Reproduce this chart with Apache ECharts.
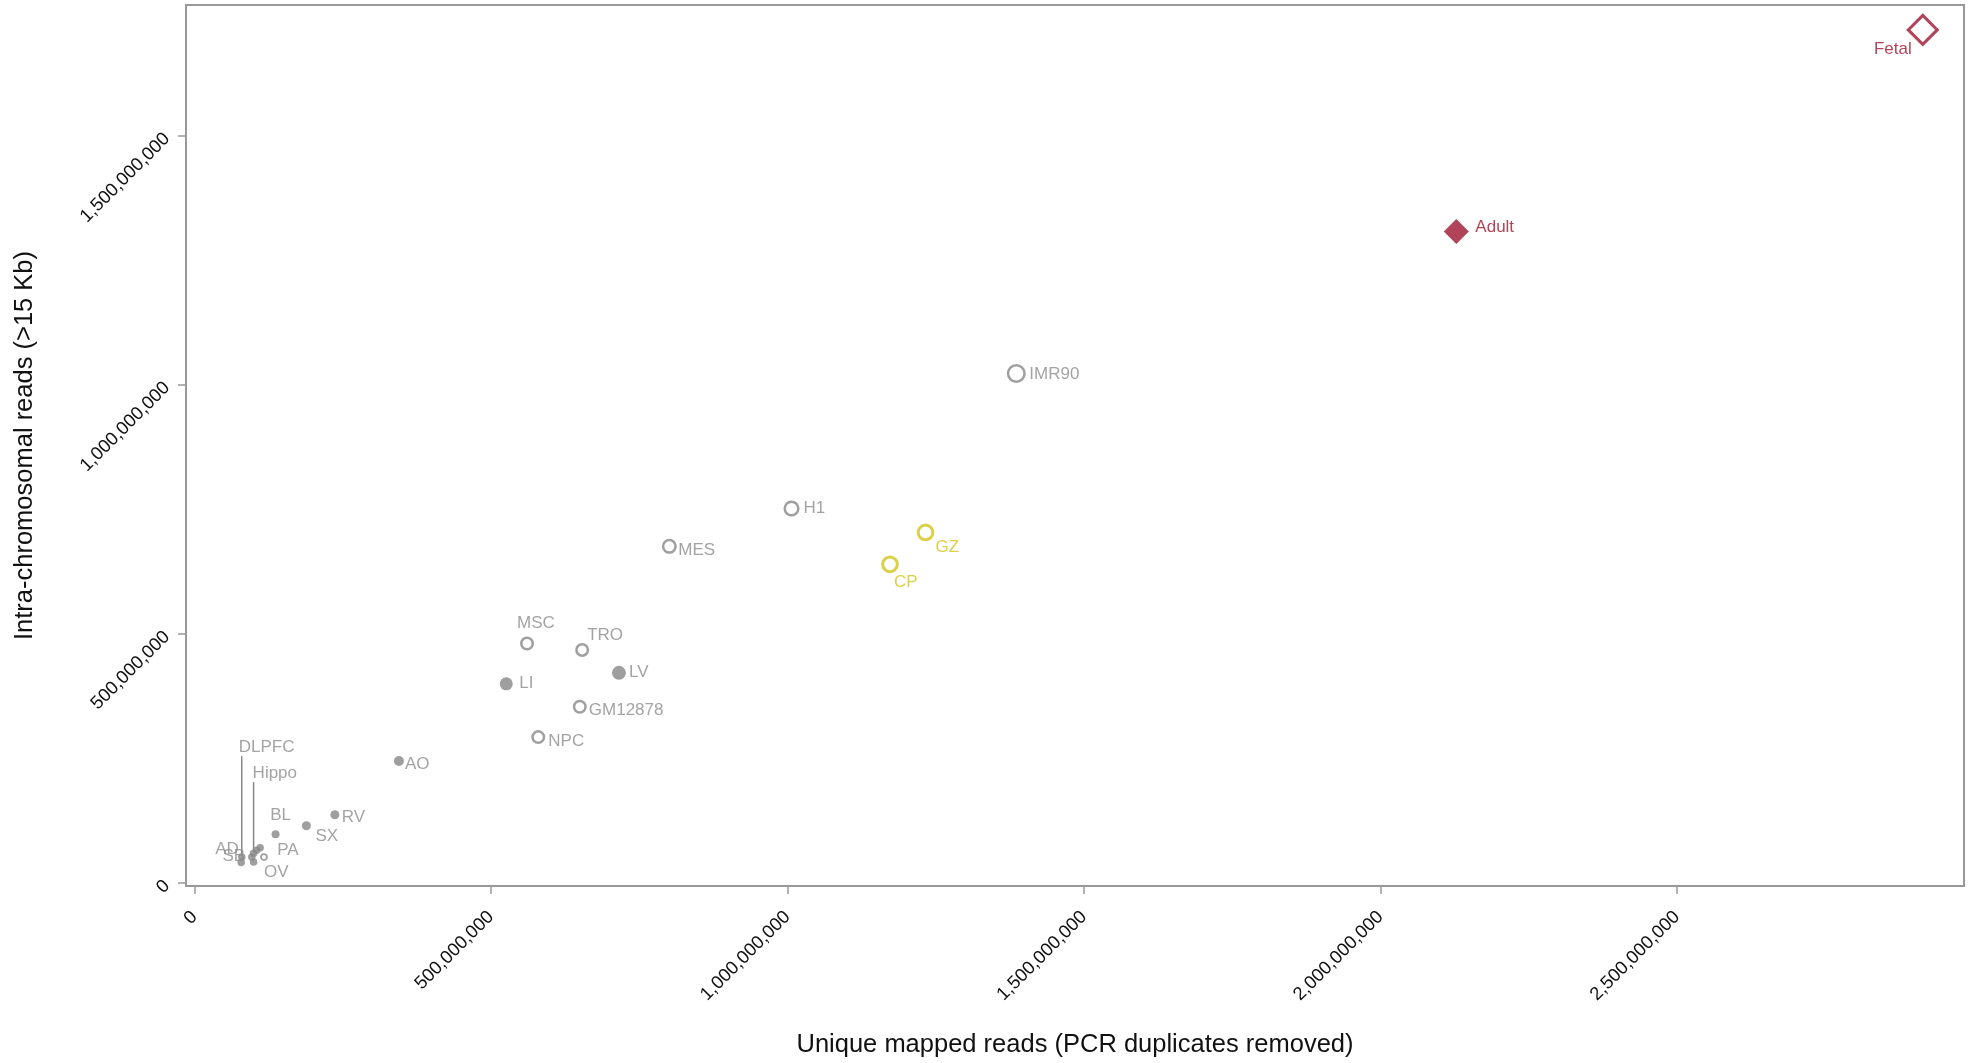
<!DOCTYPE html>
<html>
<head>
<meta charset="utf-8">
<script src="https://cdn.jsdelivr.net/npm/echarts@6/dist/echarts.min.js"></script>
<style>
  html, body { margin: 0; padding: 0; background: #fff; }
  #chart { width: 1979px; height: 1063px; }
</style>
</head>
<body>
<div id="chart"></div>
<script>
// Hi-C libraries: unique mapped reads vs. intra-chromosomal reads (>15 Kb)

// Tissue libraries (filled grey dots)
const tissueNames = ['LV', 'LI', 'AO', 'RV', 'SX', 'BL', 'PA', 'LG', 'Hippo', 'AD', 'DLPFC', 'SB', 'PO'];
const tissueUnique = [716e6, 526e6, 345e6, 237e6, 189e6, 137e6, 111e6, 105e6, 100e6, 97e6, 80e6, 79e6, 100e6];
const tissueIntra  = [422e6, 400e6, 245e6, 137e6, 115e6, 98e6, 71e6, 66e6, 60e6, 52e6, 52e6, 41e6, 42e6];

// Cell-line libraries (open grey circles)
const cellNames  = ['IMR90', 'H1', 'MES', 'MSC', 'TRO', 'GM12878', 'NPC', 'OV'];
const cellUnique = [1386e6, 1007e6, 801e6, 561e6, 654e6, 650e6, 580e6, 117.5e6];
const cellIntra  = [1023e6, 752e6, 676e6, 481e6, 468e6, 354e6, 293e6, 52e6];

// Fetal brain laminae (open yellow circles)
const laminaNames  = ['GZ', 'CP'];
const laminaUnique = [1233e6, 1173e6];
const laminaIntra  = [704e6, 640e6];

// Brain libraries (red diamonds)
const adultNames  = ['Adult'];
const adultUnique = [2128e6];
const adultIntra  = [1308e6];
const fetalNames  = ['Fetal'];
const fetalUnique = [2914.5e6];
const fetalIntra  = [1713e6];

// Axis tick values
const xTicks = [0, 500e6, 1000e6, 1500e6, 2000e6, 2500e6];
const yTicks = [0, 500e6, 1000e6, 1500e6];

// ---- styling ----
const GREY = '#878787';
const GREY_TEXT = '#8c8c8c';
const YELLOW = '#d3c41c';
const RED = '#9e1530';
const FONT = '"Liberation Sans", Arial, sans-serif';

// label anchor offset from the marker centre: [dx, dy, align]
const labelAt = {
  IMR90: [13, 1, 'left'], H1: [12, 0, 'left'], MES: [9, 4, 'left'],
  GZ: [10, 15, 'left'], CP: [4, 18, 'left'],
  MSC: [9, -20, 'center'], TRO: [5, -15, 'left'], LV: [10, -1, 'left'],
  LI: [13, 0, 'left'], GM12878: [9, 4, 'left'], NPC: [10, 4, 'left'],
  AO: [6, 3, 'left'], RV: [7, 3, 'left'], SX: [9, 11, 'left'],
  BL: [5, -19, 'center'], PA: [17, 3, 'left'], OV: [0, 15, 'left'],
  AD: [-13, -8, 'right'], SB: [4, -6, 'right'],
  DLPFC: [-3, -110, 'left'], Hippo: [-1, -80, 'left'],
  Adult: [19, -4, 'left'], Fetal: [-11, 19, 'right']
};
// labels tied back to their marker with a vertical leader line
const guided = ['DLPFC', 'Hippo'];

// marker sizes
const dotSize = { LV: 14, LI: 13, AO: 10, RV: 9, SX: 9, BL: 8 };
const ringSize = { IMR90: 16.5, H1: 13.5, MES: 12.5, MSC: 11.5, TRO: 11.5, GM12878: 11.5, NPC: 11.5, OV: 6 };

function makeItems(names, xs, ys, color) {
  return names.map((n, i) => {
    const item = { name: n, value: [xs[i], ys[i]] };
    const p = labelAt[n];
    if (p) {
      item.label = {
        show: true, position: 'inside', offset: [p[0], p[1]],
        align: p[2], verticalAlign: 'middle',
        color: color, fontSize: 17, fontFamily: FONT, formatter: '{b}'
      };
    } else {
      item.label = { show: false };
    }
    return item;
  });
}

const tissueItems = makeItems(tissueNames, tissueUnique, tissueIntra, GREY_TEXT)
  .map(d => Object.assign(d, { symbolSize: dotSize[d.name] || 7.5 }));
const cellItems = makeItems(cellNames, cellUnique, cellIntra, GREY_TEXT)
  .map(d => Object.assign(d, {
    symbolSize: ringSize[d.name] || 11.5,
    itemStyle: { borderWidth: d.name === 'OV' ? 1.8 : 2.5 }
  }));

const chart = echarts.init(document.getElementById('chart'), null, { renderer: 'canvas' });

const axisCommon = {
  type: 'value',
  splitLine: { show: false },
  axisLine: { show: true, onZero: false, lineStyle: { color: '#999', width: 2 } },
  axisTick: { show: true, length: 8, lineStyle: { color: '#999', width: 1.5 } },
  nameLocation: 'middle',
  nameTextStyle: { color: '#111', fontSize: 25.5, fontFamily: FONT },
};

const tickFormatter = v => Math.round(v).toLocaleString('en-US');

chart.setOption({
  animation: false,
  backgroundColor: '#fff',
  grid: {
    left: 186, right: 15, top: 5, bottom: 177,
    show: true, borderColor: '#999', borderWidth: 2, backgroundColor: 'transparent'
  },
  xAxis: Object.assign({}, axisCommon, {
    min: -14e6, max: 2984e6,
    name: 'Unique mapped reads (PCR duplicates removed)',
    nameGap: 146,
    axisTick: Object.assign({}, axisCommon.axisTick, { customValues: xTicks }),
    axisLabel: {
      customValues: xTicks, rotate: 45, margin: 28,
      color: '#111', fontSize: 18.5, fontFamily: FONT, formatter: tickFormatter
    }
  }),
  yAxis: Object.assign({}, axisCommon, {
    min: -6e6, max: 1763e6,
    name: 'Intra-chromosomal reads (>15 Kb)',
    nameGap: 148,
    axisTick: Object.assign({}, axisCommon.axisTick, { customValues: yTicks }),
    axisLabel: {
      customValues: yTicks, rotate: 45, margin: 19,
      color: '#111', fontSize: 18.5, fontFamily: FONT, formatter: tickFormatter
    }
  }),
  series: [
    {
      name: 'tissue', type: 'scatter', symbol: 'circle',
      itemStyle: { color: GREY },
      data: tissueItems, z: 3
    },
    {
      name: 'cell line', type: 'scatter', symbol: 'circle',
      itemStyle: { color: '#fff', borderColor: GREY, borderWidth: 2.5 },
      data: cellItems, z: 2
    },
    {
      name: 'lamina', type: 'scatter', symbol: 'circle', symbolSize: 14.7,
      itemStyle: { color: '#fff', borderColor: YELLOW, borderWidth: 3 },
      data: makeItems(laminaNames, laminaUnique, laminaIntra, YELLOW), z: 2
    },
    {
      name: 'adult', type: 'scatter', symbol: 'diamond', symbolSize: 25,
      itemStyle: { color: RED },
      data: makeItems(adultNames, adultUnique, adultIntra, RED), z: 2
    },
    {
      name: 'fetal', type: 'scatter', symbol: 'diamond', symbolSize: 29,
      itemStyle: { color: '#fff', borderColor: RED, borderWidth: 3 },
      data: makeItems(fetalNames, fetalUnique, fetalIntra, RED), z: 2
    }
  ]
});

// vertical leader lines from the DLPFC / Hippo labels down to their dots
const leaders = guided.map(n => {
  const i = tissueNames.indexOf(n);
  const p = chart.convertToPixel({ gridIndex: 0 }, [tissueUnique[i], tissueIntra[i]]);
  const top = p[1] + labelAt[n][1] + 9;
  return {
    type: 'line', z: 1, silent: true,
    shape: { x1: p[0], y1: top, x2: p[0], y2: p[1] - 2 },
    style: { stroke: GREY, lineWidth: 1.5 }
  };
});
chart.setOption({ graphic: leaders });
</script>
</body>
</html>
